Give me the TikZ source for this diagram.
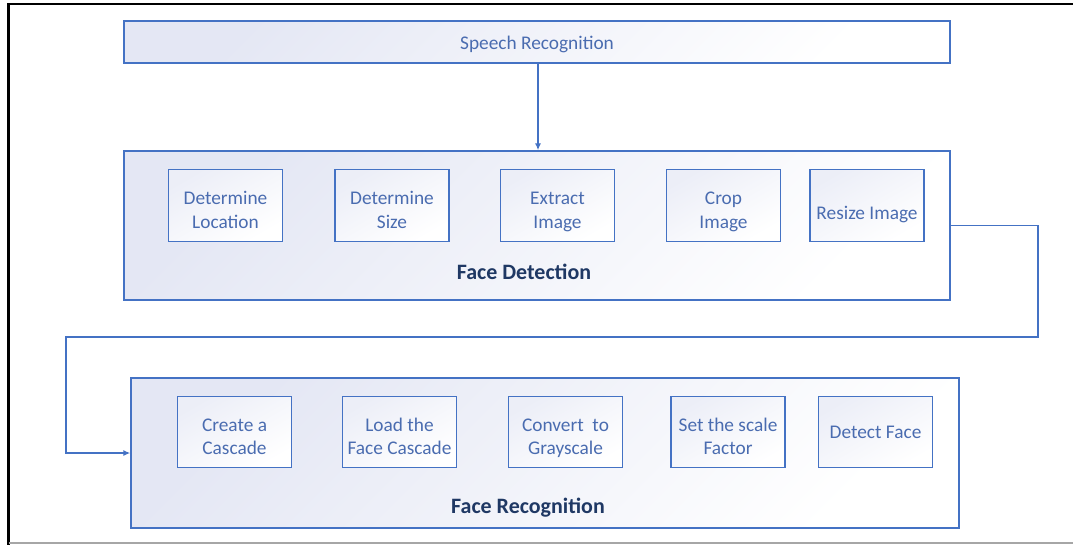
\documentclass[tikz,border=0pt]{standalone}
\usepackage{fontspec}
\setmainfont{Carlito}
\usetikzlibrary{arrows.meta}

\definecolor{boxblue}{HTML}{4472C4}
\definecolor{txtblue}{HTML}{4A6CB0}
\definecolor{navy}{HTML}{1F3864}
\definecolor{lav}{HTML}{E4E7F4}

% lowers a (multi-line) label inside its box without changing the box
\newcommand{\steptext}[2][-3.5pt]{\raisebox{#1}[\height][\depth]{\begin{tabular}{@{}c@{}}#2\end{tabular}}}

\tikzset{
  panel/.style={draw=boxblue, line width=0.8pt, top color=lav, bottom color=white,
    shading angle=45, minimum width=16.52cm},
  task/.style={draw=boxblue, line width=0.8pt, top color=lav!70, bottom color=white,
    shading angle=30, minimum width=2.28cm, minimum height=1.43cm,
    text=txtblue, font=\fontsize{11}{13.5}\selectfont, inner sep=1pt},
  title/.style={text=navy, font=\fontsize{12.5}{14}\selectfont\bfseries},
  link/.style={draw=boxblue, line width=0.8pt}
}

\begin{document}
\begin{tikzpicture}
  \useasboundingbox (0,0) rectangle (21.46,-10.9);
  % frame
  \draw[black, line width=1.6pt] (0.14,-0.08) -- (21.46,-0.08);
  \draw[black, line width=1.6pt] (0.17,-0.08) -- (0.17,-10.9);
  \draw[gray!70, line width=0.8pt] (0.17,-10.86) -- (21.46,-10.86);

  % speech stage
  \node[panel, minimum height=0.84cm, text=txtblue, font=\fontsize{11}{12.5}\selectfont]
    (sr) at (10.74,-0.84) {\steptext[-2pt]{Speech Recognition}};

  % detection stage
  \node[panel, minimum height=2.98cm] (fd) at (10.74,-4.51) {};
  \node[title] (fdl) at (10.48,-5.44) {Face Detection};
  \node[task] (d1) at (4.51,-4.11) {\steptext{Determine\\Location}};
  \node[task] (d2) at (7.84,-4.11) {\steptext{Determine\\Size}};
  \node[task] (d3) at (11.15,-4.11) {\steptext{Extract\\Image}};
  \node[task] (d4) at (14.47,-4.11) {\steptext{Crop\\Image}};
  \node[task] (d5) at (17.34,-4.11) {\steptext[-5pt]{Resize Image}};

  % recognition stage
  \node[panel, minimum width=16.56cm, minimum height=3.0cm] (fr) at (10.9,-9.06) {};
  \node[title] (frl) at (10.56,-10.16) {Face Recognition};
  \node[task] (r1) at (4.69,-8.64) {\steptext{Create a\\Cascade}};
  \node[task] (r2) at (7.99,-8.64) {\steptext{Load the\\Face Cascade}};
  \node[task] (r3) at (11.31,-8.64) {\steptext{Convert~ to\\Grayscale}};
  \node[task] (r4) at (14.56,-8.64) {\steptext{Set the scale\\Factor}};
  \node[task] (r5) at (17.51,-8.64) {\steptext[-1pt]{Detect Face}};

  % links
  \coordinate (c1) at (20.76,-4.51);
  \coordinate (c2) at (1.32,-6.74);
  \draw[link, -{Latex[length=4pt,width=3.5pt]}] (sr.south -| 10.76,0) -- (fd.north -| 10.76,0);
  \draw[link, -{Latex[length=4pt,width=3.5pt]}] (fd.east) -- (c1) |- (c2) |- (fr.west);
\end{tikzpicture}
\end{document}
